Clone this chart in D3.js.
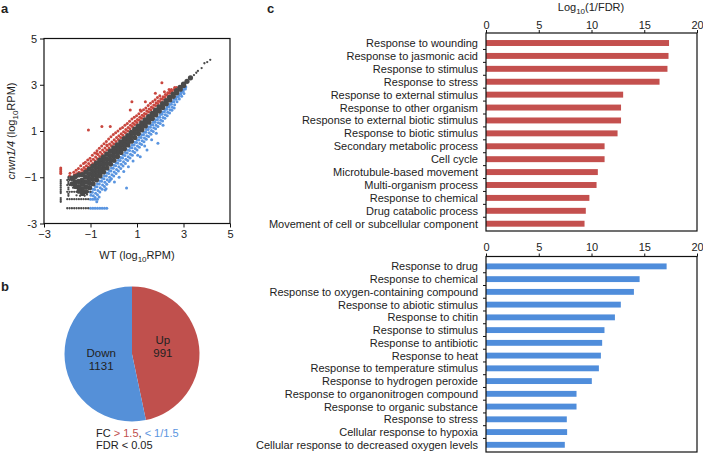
<!DOCTYPE html>
<html><head><meta charset="utf-8">
<script src="https://cdn.jsdelivr.net/npm/d3@7"></script>
<style>body{margin:0;background:#fff}svg text{font-family:"Liberation Sans",Arial,Helvetica,sans-serif;fill:#222}</style>
</head><body><svg id="c" width="703" height="453"></svg>
<script>
// ---------- DATA ----------
const scatterTicks = [-3, -1, 1, 3, 5];
const xTickLabels = ["\u22123", "\u22121", "1", "3", "5"];
const yTickLabels = ["-3", "\u22121", "1", "3", "5"];

// dense gray core of the scatter (log10 RPM: WT, crwn1/4)
const grayCore = [
[3.3,3.3],[3.15,3.15],[3.0,3.03],[3.01,2.97],[2.85,2.89],[2.86,2.81],[2.7,2.75],[2.71,2.65],
[2.55,2.6],[2.56,2.5],[2.4,2.46],[2.41,2.34],[2.25,2.32],[2.26,2.18],[2.1,2.18],[2.11,2.02],
[1.95,2.04],[1.96,1.86],[1.8,1.9],[1.81,1.7],[1.79,1.8],[1.65,1.76],[1.66,1.54],[1.64,1.65],
[1.5,1.62],[1.51,1.38],[1.49,1.5],[1.35,1.48],[1.36,1.22],[1.34,1.35],[1.2,1.35],[1.21,1.05],[1.19,1.2],
[1.05,1.21],[1.06,0.89],[1.04,1.05],[0.9,1.08],[0.91,0.72],[0.89,0.9],[0.75,0.94],[0.76,0.56],[0.74,0.75],
[0.6,0.8],[0.61,0.4],[0.59,0.67],[0.6,0.53],[0.45,0.67],[0.46,0.23],[0.44,0.52],[0.45,0.38],
[0.3,0.53],[0.31,0.07],[0.29,0.38],[0.3,0.22],[0.15,0.4],[0.16,-0.1],[0.14,0.23],[0.15,0.07],
[0,0.27],[0.01,-0.27],[-0.01,0.09],[0,-0.09],[-0.15,0.13],[-0.14,-0.43],[-0.16,-0.06],[-0.15,-0.24],
[-0.3,0],[-0.29,-0.6],[-0.31,-0.2],[-0.3,-0.4],
[-0.45,-0.13],[-0.44,-0.77],[-0.46,-0.29],[-0.45,-0.61],[-0.45,-0.45],
[-0.6,-0.26],[-0.59,-0.94],[-0.61,-0.43],[-0.6,-0.77],[-0.6,-0.6],
[-0.75,-0.39],[-0.74,-1.11],[-0.76,-0.57],[-0.75,-0.93],[-0.75,-0.75],
[-0.9,-0.52],[-0.89,-1.28],[-0.91,-0.71],[-0.9,-1.09],[-0.9,-0.9],
[-1.05,-0.65],[-1.04,-1.45],[-1.06,-0.85],[-1.05,-1.25],[-1.05,-1.05],
[-1.2,-0.78],[-1.19,-1.62],[-1.21,-0.99],[-1.2,-1.41],[-1.2,-1.2],
[-1.35,-0.88],[-1.34,-1.7],[-1.36,-1.12],[-1.35,-1.5],[-1.35,-1.3],
[-1.5,-0.9],[-1.49,-1.6],[-1.51,-1.18],[-1.5,-1.4],
[-1.65,-0.97],[-1.64,-1.4],[-1.66,-1.2],[-1.8,-1.04],[-1.79,-1.28]
];

// sparse gray points (discrete low-count streaks and high-expression tail)
const grayPts = [
[-2.0,-1.12],[-1.9,-1.12],[-1.8,-1.12],[-1.7,-1.12],
[-2.0,-1.34],[-1.9,-1.34],[-1.8,-1.34],[-1.7,-1.34],[-1.6,-1.34],
[-2.0,-1.63],[-1.9,-1.63],[-1.8,-1.63],[-1.7,-1.63],[-1.6,-1.63],[-1.5,-1.63],[-1.4,-1.63],[-1.3,-1.63],[-1.2,-1.63],[-1.1,-1.63],[-1.0,-1.63],
[-2.0,-1.95],[-1.9,-1.95],[-1.8,-1.95],[-1.7,-1.95],[-1.6,-1.95],[-1.5,-1.95],[-1.4,-1.95],[-1.3,-1.95],[-1.2,-1.95],[-1.1,-1.95],
[-2.0,-2.34],[-1.9,-2.34],[-1.8,-2.34],[-1.7,-2.34],[-1.6,-2.34],[-1.5,-2.34],[-1.4,-2.34],[-1.3,-2.34],[-1.2,-2.34],[-1.1,-2.34],
[-2.28,-1.12],[-2.28,-1.2],[-2.28,-1.28],[-2.28,-1.36],[-2.28,-1.44],[-2.28,-1.52],[-2.28,-1.6],[-2.28,-1.68],[-2.28,-1.9],[-2.28,-1.98],[-2.28,-2.06],
[-1.95,-1.0],[-1.95,-1.08],[-1.95,-1.2],[-1.95,-1.28],[-1.95,-1.45],[-1.95,-1.52],[-1.95,-1.72],[-1.95,-1.8],
[-1.75,-1.45],[-1.55,-1.5],[-1.45,-1.8],[-1.25,-1.8],[-1.6,-1.78],[-1.15,-1.75],
[3.45,3.42],[3.55,3.52],[3.62,3.6],[3.78,3.72],[3.9,3.93],[4.02,3.98],[4.15,4.08]
];

// up-regulated genes (FC > 1.5)
const redPts = [
[2.7,2.88],[2.6,2.8],[2.62,2.88],[2.5,2.72],[2.48,2.8],[2.4,2.63],[2.42,2.72],[2.38,2.8],
[2.3,2.55],[2.32,2.65],[2.2,2.46],[2.22,2.58],[2.18,2.7],[2.1,2.37],[2.12,2.48],[2.07,3.09],
[2.0,2.28],[2.02,2.4],[1.98,2.52],[1.9,2.19],[1.92,2.3],[1.88,2.45],[1.8,2.1],[1.82,2.22],[1.79,2.63],[1.78,2.35],
[1.7,2.0],[1.72,2.12],[1.68,2.28],[1.6,1.92],[1.62,2.04],[1.58,2.2],[1.5,1.82],[1.52,1.95],[1.48,2.1],
[1.4,1.73],[1.42,1.86],[1.36,2.27],[1.38,2.0],[1.3,1.64],[1.32,1.76],[1.28,1.92],[1.2,1.55],[1.22,1.68],[1.18,1.85],
[1.1,1.46],[1.12,1.6],[1.14,1.91],[1.08,1.75],[1.0,1.37],[1.02,1.5],[0.98,1.66],[0.9,1.28],[0.92,1.42],[0.88,1.6],
[0.8,1.19],[0.82,1.33],[0.78,2.27],[0.78,1.52],[0.7,1.1],[0.72,1.25],[0.71,1.91],[0.68,1.42],
[0.6,1.0],[0.62,1.15],[0.58,1.32],[0.5,0.92],[0.52,1.06],[0.48,1.25],[0.4,0.82],[0.42,0.97],[0.38,1.15],
[0.3,0.72],[0.32,0.88],[0.28,1.1],[0.2,0.63],[0.22,0.8],[0.18,1.0],[0.1,0.55],[0.12,0.72],[0.08,0.92],
[0,0.45],[0.02,0.62],[-0.02,0.85],[-0.1,0.36],[-0.08,0.52],[-0.12,0.75],[-0.15,1.19],
[-0.2,0.27],[-0.18,0.44],[-0.22,0.65],[-0.3,0.18],[-0.28,0.36],[-0.3,0.39],[-0.32,0.55],
[-0.4,0.09],[-0.38,0.26],[-0.42,0.45],[-0.5,0.0],[-0.48,0.18],[-0.51,1.19],[-0.52,0.35],
[-0.6,-0.1],[-0.58,0.08],[-0.62,0.25],[-0.7,-0.2],[-0.68,-0.02],[-0.73,0.03],[-0.72,0.15],
[-0.8,-0.3],[-0.78,-0.12],[-0.82,0.05],[-0.9,-0.4],[-0.88,-0.22],[-0.92,-0.05],
[-1.0,-0.48],[-0.98,-0.3],[-1.02,-0.18],[-1.09,1.04],[-1.1,-0.56],[-1.08,-0.4],[-1.12,-0.25],
[-1.2,-0.65],[-1.18,-0.5],[-1.22,-0.35],[-1.3,-0.72],[-1.28,-0.58],[-1.3,-0.4],
[-1.4,-0.8],[-1.38,-0.66],[-1.42,-0.5],[-1.5,-0.78],[-1.52,-0.62],[-1.6,-0.85],[-1.62,-0.7],
[-1.7,-0.9],[-1.72,-0.78],[-1.88,-0.83],[-1.9,-0.95],
[-2.28,-0.6],[-2.28,-0.68],[-2.28,-0.76],[-2.28,-0.84]
];

// down-regulated genes (FC < 1/1.5)
const bluePts = [
[3.1,2.9],[3.08,2.82],[3.0,2.8],[2.98,2.72],[3.02,2.62],[2.9,2.68],[2.88,2.6],[2.92,2.5],
[2.8,2.57],[2.78,2.48],[2.82,2.38],[2.7,2.47],[2.68,2.37],[2.72,2.26],
[2.6,2.37],[2.58,2.27],[2.62,2.14],[2.6,2.0],[2.5,2.26],[2.48,2.16],[2.52,2.03],[2.5,1.9],
[2.4,2.15],[2.38,2.05],[2.42,1.92],[2.4,1.78],[2.3,2.04],[2.28,1.94],[2.32,1.81],[2.3,1.66],
[2.2,1.93],[2.18,1.83],[2.22,1.7],[2.2,1.55],[2.1,1.82],[2.08,1.72],[2.12,1.58],[2.1,1.43],[2.12,1.25],
[2.0,1.71],[1.98,1.6],[2.02,1.47],[2.0,1.32],[1.9,1.6],[1.88,1.49],[1.92,1.36],[1.9,1.2],[1.9,0.47],
[1.8,1.49],[1.78,1.38],[1.82,1.25],[1.8,1.1],[1.83,0.9],[1.7,1.38],[1.68,1.27],[1.72,1.14],[1.7,0.98],
[1.6,1.27],[1.58,1.16],[1.62,1.02],[1.6,0.86],[1.63,0.62],[1.5,1.17],[1.48,1.06],[1.52,0.92],[1.5,0.76],
[1.4,1.06],[1.38,0.95],[1.42,0.8],[1.4,0.64],[1.43,0.18],[1.3,0.95],[1.28,0.84],[1.32,0.7],[1.3,0.53],[1.33,0.35],
[1.2,0.84],[1.18,0.72],[1.22,0.58],[1.2,0.42],[1.14,-0.11],[1.1,0.73],[1.08,0.61],[1.12,0.46],[1.1,0.3],
[1.0,0.62],[0.98,0.5],[1.02,0.35],[1.0,0.18],[1.03,-0.05],[0.9,0.51],[0.88,0.39],[0.92,0.24],[0.9,0.07],
[0.8,0.4],[0.78,0.28],[0.82,0.12],[0.8,-0.05],[0.83,-0.3],[0.7,0.29],[0.68,0.16],[0.72,0.0],[0.7,-0.17],
[0.6,0.18],[0.58,0.05],[0.62,-0.11],[0.6,-0.28],[0.63,-0.55],[0.5,0.07],[0.48,-0.06],[0.52,-0.22],[0.5,-0.4],[0.55,-1.47],
[0.4,-0.04],[0.38,-0.17],[0.42,-0.33],[0.4,-0.51],[0.43,-0.75],[0.3,-0.15],[0.28,-0.28],[0.32,-0.44],[0.3,-0.62],
[0.2,-0.26],[0.18,-0.39],[0.22,-0.55],[0.2,-0.73],[0.23,-1.0],[0.1,-0.37],[0.08,-0.5],[0.12,-0.66],[0.1,-0.84],
[0,-0.48],[-0.02,-0.61],[0.02,-0.77],[0,-0.95],[0.03,-1.2],[-0.1,-0.6],[-0.12,-0.73],[-0.08,-0.89],[-0.1,-1.07],[-0.15,-1.12],
[-0.2,-0.71],[-0.22,-0.84],[-0.18,-1.0],[-0.2,-1.18],[-0.3,-0.82],[-0.32,-0.95],[-0.28,-1.11],[-0.3,-1.3],[-0.33,-1.5],
[-0.4,-0.93],[-0.42,-1.06],[-0.38,-1.22],[-0.37,-1.55],[-0.4,-1.4],[-0.5,-1.04],[-0.52,-1.17],[-0.48,-1.33],[-0.5,-1.52],
[-0.6,-1.16],[-0.62,-1.29],[-0.58,-1.45],[-0.6,-1.64],[-0.63,-1.85],[-0.7,-1.28],[-0.72,-1.41],[-0.68,-1.57],[-0.73,-2.06],[-0.7,-1.76],
[-0.8,-1.4],[-0.82,-1.53],[-0.78,-1.69],[-0.8,-1.88],[-0.9,-1.52],[-0.92,-1.65],[-0.88,-1.8],[-1.0,-1.65],[-0.98,-1.78],
[-1.0,-1.95],[-0.9,-1.95],[-0.8,-1.95],[-0.7,-1.95],
[-1.0,-2.34],[-0.9,-2.34],[-0.8,-2.34],[-0.7,-2.34],[-0.6,-2.34],[-0.5,-2.34],[-0.4,-2.34],[-0.3,-2.34]
];

const pieLabels = ["Up", "Down"];
const pieValues = [991, 1131];

const upTerms = ["Response to wounding","Response to jasmonic acid","Response to stimulus","Response to stress",
"Response to external stimulus","Response to other organism","Response to external biotic stimulus",
"Response to biotic stimulus","Secondary metabolic process","Cell cycle","Microtubule-based movement",
"Multi-organism process","Response to chemical","Drug catabolic process","Movement of cell or subcellular component"];
const upValues = [17.35,17.3,17.2,16.45,13.0,12.8,12.8,12.47,11.24,11.24,10.6,10.48,9.8,9.46,9.34];

const downTerms = ["Response to drug","Response to chemical","Response to oxygen-containing compound",
"Response to abiotic stimulus","Response to chitin","Response to stimulus","Response to antibiotic",
"Response to heat","Response to temperature stimulus","Response to hydrogen peroxide",
"Response to organonitrogen compound","Response to organic substance","Response to stress",
"Cellular response to hypoxia","Cellular response to decreased oxygen levels"];
const downValues = [17.12,14.56,14.02,12.78,12.22,11.23,11.01,10.89,10.7,10.03,8.58,8.58,7.66,7.69,7.47];

const barTicks = [0, 5, 10, 15, 20];

// ---------- STYLE ----------
const RED = "#c4504e", BLUE = "#4f8ddb", GRAY = "#4a4a4a";
const PRED = "#c9473f", PBLUE = "#5a95e0";
const svg = d3.select("#c");

function panelLabel(t, x, y) {
  svg.append("text").attr("x", x).attr("y", y).attr("font-size", 13).attr("font-weight", "bold").text(t);
}

// ---------- PANEL A: scatter ----------
const sx = d3.scaleLinear().domain([-3, 5]).range([44, 230]);
const sy = d3.scaleLinear().domain([-3, 5]).range([223.5, 38.5]);
const gA = svg.append("g");
gA.append("g").selectAll("circle").data(redPts).join("circle")
  .attr("cx", d => sx(d[0])).attr("cy", d => sy(d[1])).attr("r", 1.5).attr("fill", PRED);
gA.append("g").selectAll("circle").data(bluePts).join("circle")
  .attr("cx", d => sx(d[0])).attr("cy", d => sy(d[1])).attr("r", 1.5).attr("fill", PBLUE);
gA.append("g").selectAll("circle").data(grayPts).join("circle")
  .attr("cx", d => sx(d[0])).attr("cy", d => sy(d[1])).attr("r", 1.15).attr("fill", GRAY);
gA.append("g").selectAll("circle").data(grayCore).join("circle")
  .attr("cx", d => sx(d[0])).attr("cy", d => sy(d[1])).attr("r", 2.6).attr("fill", GRAY);

gA.append("rect").attr("x", 44).attr("y", 38.5).attr("width", 186).attr("height", 185)
  .attr("fill", "none").attr("stroke", "#111").attr("stroke-width", 1.2);
const axL = gA.append("g").attr("transform", "translate(44,0)")
  .call(d3.axisLeft(sy).tickValues(scatterTicks).tickSize(4).tickPadding(3).tickFormat((d, i) => yTickLabels[i]));
const axB = gA.append("g").attr("transform", "translate(0,223.5)")
  .call(d3.axisBottom(sx).tickValues(scatterTicks).tickSize(4).tickPadding(3).tickFormat((d, i) => xTickLabels[i]));
[axL, axB].forEach(a => {
  a.select(".domain").remove();
  a.selectAll("line").attr("stroke", "#111");
  a.selectAll("text").attr("font-size", 11).attr("font-family", null).attr("fill", "#222");
});

const yl = gA.append("text").attr("transform", "translate(15,131) rotate(-90)").attr("text-anchor", "middle").attr("font-size", 11);
yl.append("tspan").attr("font-style", "italic").text("crwn1/4");
yl.append("tspan").text(" (log");
yl.append("tspan").attr("font-size", 8).attr("dy", 3).text("10");
yl.append("tspan").attr("dy", -3).text("RPM)");
const xl = gA.append("text").attr("x", 137).attr("y", 259).attr("text-anchor", "middle").attr("font-size", 11);
xl.append("tspan").text("WT (log");
xl.append("tspan").attr("font-size", 8).attr("dy", 3).text("10");
xl.append("tspan").attr("dy", -3).text("RPM)");
panelLabel("a", 1, 12.5);

// ---------- PANEL B: pie ----------
const cx = 132, cy = 354, R = 67.5;
const pie = d3.pie().sort(null).value(d => d)(pieValues);
const arc = d3.arc().innerRadius(0).outerRadius(R);
const gB = svg.append("g").attr("transform", `translate(${cx},${cy})`);
gB.selectAll("path").data(pie).join("path").attr("d", arc).attr("fill", (d, i) => i === 0 ? "#c0504d" : "#5590d8");
const labelArc = d3.arc().innerRadius(31).outerRadius(31);
const lblShift = [-7, 0];
pie.forEach((p, i) => {
  const c = labelArc.centroid(p);
  const t = gB.append("text").attr("text-anchor", "middle").attr("font-size", 11.5);
  t.append("tspan").attr("x", c[0]).attr("y", c[1] + lblShift[i]).text(pieLabels[i]);
  t.append("tspan").attr("x", c[0]).attr("y", c[1] + lblShift[i] + 13).text(pieValues[i]);
});
const lg = svg.append("text").attr("x", 96).attr("y", 437).attr("font-size", 11);
lg.append("tspan").text("FC ");
lg.append("tspan").style("fill", "#c0504d").text("> 1.5");
lg.append("tspan").text(", ");
lg.append("tspan").style("fill", "#5a95e0").text("< 1/1.5");
svg.append("text").attr("x", 96).attr("y", 449).attr("font-size", 11).text("FDR < 0.05");
panelLabel("b", 1, 291);

// ---------- PANEL C: bar charts ----------
const bx = d3.scaleLinear().domain([0, 20]).range([486, 697]);
function barChart(terms, values, color, top, bottom, pad) {
  const g = svg.append("g");
  const by = d3.scaleBand().domain(terms).range([top, bottom]).paddingInner(0.54).paddingOuter(0.44).align(0.62);
  g.selectAll("rect.bar").data(values).join("rect").attr("class", "bar")
    .attr("x", bx(0)).attr("y", (d, i) => by(terms[i]))
    .attr("width", d => bx(d) - bx(0)).attr("height", by.bandwidth()).attr("fill", color);
  g.append("rect").attr("x", bx(0)).attr("y", top).attr("width", bx(20) - bx(0)).attr("height", bottom - top)
    .attr("fill", "none").attr("stroke", "#111").attr("stroke-width", 1.2);
  const ax = g.append("g").attr("transform", `translate(0,${top})`)
    .call(d3.axisTop(bx).tickValues(barTicks).tickSize(3).tickPadding(pad));
  ax.select(".domain").remove();
  ax.selectAll("line").attr("stroke", "#111");
  ax.selectAll("text").attr("font-size", 11).attr("font-family", null).attr("fill", "#222");
  g.selectAll("text.lab").data(terms).join("text").attr("class", "lab")
    .attr("x", bx(0) - 8).attr("y", d => by(d) + by.bandwidth() / 2).attr("dy", "0.36em")
    .attr("text-anchor", "end").attr("font-size", 11).text(d => d);
  g.selectAll("line.sep").data(terms.slice(0, -1)).join("line").attr("class", "sep")
    .attr("x1", bx(0) - 3).attr("x2", bx(0))
    .attr("y1", d => by(d) + by.bandwidth() / 2 + by.step() / 2)
    .attr("y2", d => by(d) + by.bandwidth() / 2 + by.step() / 2)
    .attr("stroke", "#111");
}
barChart(upTerms, upValues, RED, 33, 231, 1.5);
barChart(downTerms, downValues, BLUE, 256.5, 452, 2.5);

const tl = svg.append("text").attr("x", 591).attr("y", 11).attr("text-anchor", "middle").attr("font-size", 11);
tl.append("tspan").text("Log");
tl.append("tspan").attr("font-size", 8).attr("dy", 3).text("10");
tl.append("tspan").attr("dy", -3).text("(1/FDR)");
panelLabel("c", 267, 12.5);
</script></body></html>
